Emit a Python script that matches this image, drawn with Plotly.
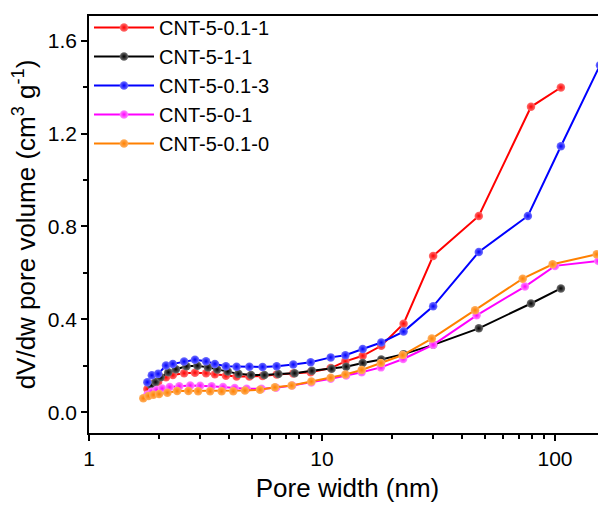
import plotly.graph_objects as go

# ---------------- data ----------------
names = ["CNT-5-0.1-1", "CNT-5-1-1", "CNT-5-0.1-3", "CNT-5-0-1", "CNT-5-0.1-0"]

x_red = [1.78, 1.86, 1.98, 2.14, 2.29, 2.56, 2.85, 3.18, 3.47, 3.87, 4.30, 4.88, 5.56, 6.39,
         7.53, 8.94, 10.9, 12.6, 14.95, 17.96, 22.4, 30.0, 47.1, 78.9, 106]
y_red = [0.100, 0.120, 0.130, 0.150, 0.160, 0.168, 0.170, 0.168, 0.163, 0.157, 0.154, 0.154,
         0.156, 0.162, 0.167, 0.172, 0.190, 0.219, 0.243, 0.286, 0.381, 0.673, 0.845, 1.315, 1.398]

x_black = [1.85, 1.93, 2.03, 2.19, 2.36, 2.62, 2.92, 3.24, 3.55, 3.94, 4.38, 4.96, 5.66, 6.50,
           7.63, 9.05, 11.0, 12.7, 14.95, 17.96, 22.4, 30.0, 47.1, 78.9, 106]
y_black = [0.115, 0.130, 0.150, 0.172, 0.185, 0.198, 0.200, 0.193, 0.184, 0.175, 0.165, 0.160,
           0.160, 0.164, 0.168, 0.178, 0.187, 0.196, 0.212, 0.227, 0.250, 0.290, 0.361, 0.468, 0.533]

x_blue = [1.78, 1.86, 1.98, 2.14, 2.29, 2.56, 2.85, 3.18, 3.47, 3.87, 4.30, 4.88, 5.56, 6.39,
          7.53, 8.94, 10.9, 12.6, 14.95, 17.96, 22.4, 30.0, 47.1, 76.5, 106, 156]
y_blue = [0.129, 0.159, 0.165, 0.201, 0.208, 0.218, 0.226, 0.219, 0.208, 0.198, 0.196, 0.196,
          0.195, 0.198, 0.205, 0.215, 0.236, 0.245, 0.272, 0.300, 0.347, 0.456, 0.690, 0.845,
          1.145, 1.494]

x_magenta = [1.78, 1.86, 1.95, 2.06, 2.22, 2.44, 2.72, 3.00, 3.36, 3.76, 4.22, 4.75, 5.50, 6.35,
             7.45, 9.0, 10.9, 12.7, 14.8, 17.9, 22.3, 30.0, 46.1, 74.3, 100, 153.5]
y_magenta = [0.075, 0.088, 0.096, 0.102, 0.108, 0.112, 0.115, 0.114, 0.112, 0.108, 0.104, 0.101,
             0.101, 0.105, 0.115, 0.128, 0.144, 0.158, 0.172, 0.193, 0.229, 0.290, 0.417, 0.541,
             0.630, 0.651]

x_orange = [1.71, 1.80, 1.89, 2.00, 2.17, 2.39, 2.67, 2.94, 3.31, 3.71, 4.16, 4.67, 5.42, 6.28,
            7.41, 9.0, 10.9, 12.6, 14.8, 17.9, 22.2, 29.6, 45.4, 72.7, 97.7, 151]
y_orange = [0.060, 0.070, 0.075, 0.078, 0.084, 0.091, 0.091, 0.090, 0.090, 0.090, 0.090, 0.093,
            0.097, 0.107, 0.115, 0.132, 0.148, 0.162, 0.182, 0.212, 0.246, 0.317, 0.439, 0.575,
            0.637, 0.680]

x_ticks = [1, 10, 100]
x_tick_labels = ["1", "10", "100"]
y_ticks = [0.0, 0.4, 0.8, 1.2, 1.6]
y_tick_labels = ["0.0", "0.4", "0.8", "1.2", "1.6"]

# ---------------- styling ----------------
series = [
    (x_red, y_red, "#FF0000", "#FF7070"),
    (x_black, y_black, "#000000", "#707070"),
    (x_blue, y_blue, "#0000FF", "#7070FF"),
    (x_magenta, y_magenta, "#FF00FF", "#FF8CFF"),
    (x_orange, y_orange, "#FF8000", "#FFB060"),
]

FONT = "Liberation Sans, Arial, sans-serif"

fig = go.Figure()
for (xs, ys, col, light), nm in zip(series, names):
    fig.add_trace(go.Scatter(
        x=xs, y=ys, name=nm, mode="lines+markers",
        line=dict(color=col, width=2),
        marker=dict(size=8.5, color=light, line=dict(width=0),
                    gradient=dict(type="radial", color=col)),
    ))

minor_x = [v * d for d in (1, 10, 100) for v in range(2, 10) if v * d < 170]

# the page body has an 8px margin; the figure is sized so the plot lands where the reference has it
fig.update_layout(
    width=598, height=500,
    margin=dict(l=81, r=0, t=4, b=75),
    paper_bgcolor="white", plot_bgcolor="white",
    font=dict(family=FONT, size=21, color="black"),
    showlegend=True,
    legend=dict(x=0.0, y=1.02, xanchor="left", yanchor="top",
                bgcolor="rgba(0,0,0,0)", font=dict(size=20, family=FONT),
                itemwidth=60, tracegroupgap=0),
    xaxis=dict(
        type="log", range=[0, 2.219],
        tickvals=x_ticks, ticktext=x_tick_labels,
        ticks="outside", ticklen=6, tickwidth=1.5, tickcolor="black",
        minor=dict(tickvals=minor_x, ticks="outside", ticklen=4, tickwidth=1.5,
                   tickcolor="black", showgrid=False),
        showline=True, linecolor="black", linewidth=1.5, mirror=True,
        showgrid=False, zeroline=False,
        tickfont=dict(size=21, family=FONT),
        title=dict(text="Pore width (nm)", font=dict(size=26, family=FONT), standoff=10),
    ),
    yaxis=dict(
        range=[-0.0896, 1.706],
        tickvals=y_ticks, ticktext=y_tick_labels,
        ticks="outside", ticklen=6, tickwidth=1.5, tickcolor="black",
        minor=dict(dtick=0.2, tick0=0, ticks="outside", ticklen=4, tickwidth=1.5,
                   tickcolor="black", showgrid=False),
        showline=True, linecolor="black", linewidth=1.5,
        showgrid=False, zeroline=False,
        tickfont=dict(size=21, family=FONT),
        title=dict(text="dV/dw pore volume (cm<sup>3</sup> g<sup>-1</sup>)",
                   font=dict(size=26, family=FONT), standoff=6),
    ),
)

fig.write_html("out.html")
